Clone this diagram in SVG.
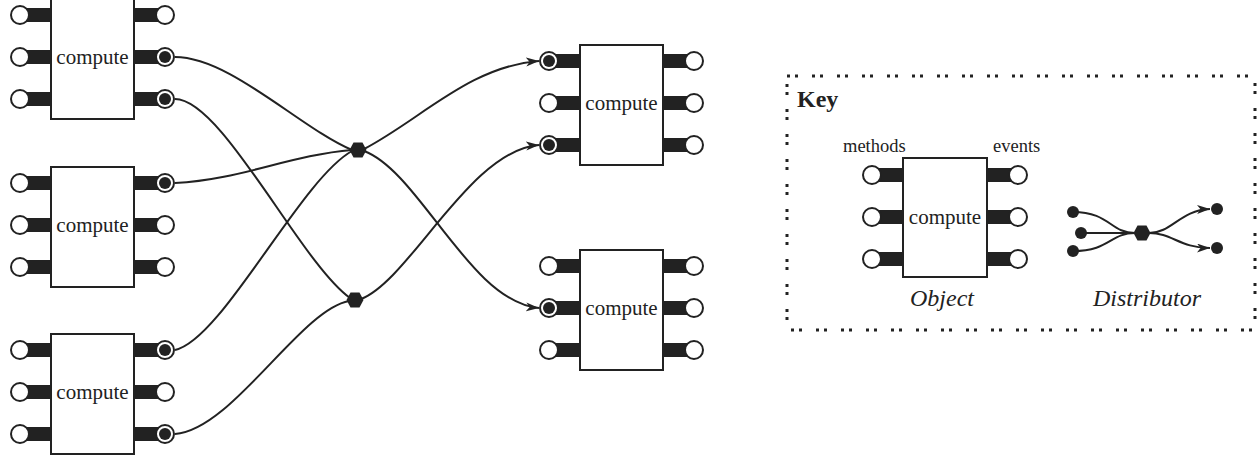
<svg xmlns="http://www.w3.org/2000/svg" xmlns:xlink="http://www.w3.org/1999/xlink" width="1259" height="457" viewBox="0 0 1259 457">
  <style>
    .box { fill: #fff; stroke: #222; stroke-width: 2; }
    .bar { fill: #222; }
    .ring { fill: #fff; stroke: #222; stroke-width: 2; }
    .dot { fill: #222; }
    .lbl { font-family: "Liberation Serif", "Times New Roman", serif; font-size: 21px; fill: #222; text-anchor: middle; }
    .small { font-family: "Liberation Serif", "Times New Roman", serif; font-size: 18.5px; fill: #222; }
    .cap { font-family: "Liberation Serif", "Times New Roman", serif; font-size: 24px; font-style: italic; fill: #222; text-anchor: middle; }
    .key { font-family: "Liberation Serif", "Times New Roman", serif; font-size: 24px; font-weight: bold; fill: #222; }
    .wire { fill: none; stroke: #222; stroke-width: 2; }
    .hub { fill: #222; }
    .frame { fill: none; stroke: #222; stroke-width: 3; stroke-dasharray: 3 5 3 14; }
  </style>
  <defs>
    <marker id="arrow" markerUnits="userSpaceOnUse" markerWidth="14" markerHeight="10" refX="13" refY="4.5" orient="auto">
      <path d="M0,0 L13,4.5 L0,9 L3.5,4.5 z" fill="#222"/>
    </marker>
    <!-- pins: origin at the box edge, on the pin's row -->
    <g id="pinL"><rect class="bar" x="-31" y="-7" width="31" height="14"/><circle class="ring" cx="-31" cy="0" r="9"/></g>
    <g id="pinR"><rect class="bar" x="0" y="-7" width="31" height="14"/><circle class="ring" cx="31" cy="0" r="9"/></g>
    <g id="pinLf"><use xlink:href="#pinL"/><circle class="dot" cx="-31" cy="0" r="6"/></g>
    <g id="pinRf"><use xlink:href="#pinR"/><circle class="dot" cx="31" cy="0" r="6"/></g>
    <polygon id="hex" points="-8.5,0 -4.5,-7.5 4.5,-7.5 8.5,0 4.5,7.5 -4.5,7.5"/>
  </defs>

  <!-- connectors -->
  <g id="connectors">
    <path class="wire" d="M175,57 C230,57 300,128 352,150"/>
    <path class="wire" d="M175,99 C222,99 300,262 350,298"/>
    <path class="wire" d="M175,183 C240,180 290,155 352,150"/>
    <path class="wire" d="M175,350 C222,340 300,180 352,151"/>
    <path class="wire" d="M175,434 C232,430 300,310 349,301"/>
    <path class="wire" d="M364,149 C420,120 470,66 539,61" marker-end="url(#arrow)"/>
    <path class="wire" d="M364,151 C420,172 470,302 539,308" marker-end="url(#arrow)"/>
    <path class="wire" d="M361,299 C410,280 470,150 539,145" marker-end="url(#arrow)"/>
  </g>

  <!-- distributors -->
  <g id="dist1"><use xlink:href="#hex" class="hub" x="358" y="150"/></g>
  <g id="dist2"><use xlink:href="#hex" class="hub" x="355" y="300"/></g>

  <!-- compute objects -->
  <g id="objL1" transform="translate(51,-1)">
    <use xlink:href="#pinL" y="16"/><use xlink:href="#pinL" y="58"/><use xlink:href="#pinL" y="100"/>
    <use xlink:href="#pinR" x="83" y="16"/><use xlink:href="#pinRf" x="83" y="58"/><use xlink:href="#pinRf" x="83" y="100"/>
    <rect class="box" x="0" y="0" width="83" height="120"/>
    <text class="lbl" x="41.5" y="65">compute</text>
  </g>
  <g id="objL2" transform="translate(51,167)">
    <use xlink:href="#pinL" y="16"/><use xlink:href="#pinL" y="58"/><use xlink:href="#pinL" y="100"/>
    <use xlink:href="#pinRf" x="83" y="16"/><use xlink:href="#pinR" x="83" y="58"/><use xlink:href="#pinR" x="83" y="100"/>
    <rect class="box" x="0" y="0" width="83" height="120"/>
    <text class="lbl" x="41.5" y="65">compute</text>
  </g>
  <g id="objL3" transform="translate(51,334)">
    <use xlink:href="#pinL" y="16"/><use xlink:href="#pinL" y="58"/><use xlink:href="#pinL" y="100"/>
    <use xlink:href="#pinRf" x="83" y="16"/><use xlink:href="#pinR" x="83" y="58"/><use xlink:href="#pinRf" x="83" y="100"/>
    <rect class="box" x="0" y="0" width="83" height="120"/>
    <text class="lbl" x="41.5" y="65">compute</text>
  </g>
  <g id="objR1" transform="translate(580,45)">
    <use xlink:href="#pinLf" y="16"/><use xlink:href="#pinL" y="58"/><use xlink:href="#pinLf" y="100"/>
    <use xlink:href="#pinR" x="83" y="16"/><use xlink:href="#pinR" x="83" y="58"/><use xlink:href="#pinR" x="83" y="100"/>
    <rect class="box" x="0" y="0" width="83" height="120"/>
    <text class="lbl" x="41.5" y="65">compute</text>
  </g>
  <g id="objR2" transform="translate(580,250)">
    <use xlink:href="#pinL" y="16"/><use xlink:href="#pinLf" y="58"/><use xlink:href="#pinL" y="100"/>
    <use xlink:href="#pinR" x="83" y="16"/><use xlink:href="#pinR" x="83" y="58"/><use xlink:href="#pinR" x="83" y="100"/>
    <rect class="box" x="0" y="0" width="83" height="120"/>
    <text class="lbl" x="41.5" y="65">compute</text>
  </g>

  <!-- key -->
  <g id="key">
    <rect class="frame" x="787" y="76" width="468" height="254"/>
    <text class="key" x="797" y="107">Key</text>
    <text class="small" x="843" y="152">methods</text>
    <text class="small" x="993" y="152">events</text>
    <g id="keyObject" transform="translate(903,158)">
      <use xlink:href="#pinL" y="17"/><use xlink:href="#pinL" y="59"/><use xlink:href="#pinL" y="101"/>
      <use xlink:href="#pinR" x="84" y="17"/><use xlink:href="#pinR" x="84" y="59"/><use xlink:href="#pinR" x="84" y="101"/>
      <rect class="box" x="0" y="0" width="84" height="119"/>
      <text class="lbl" x="42" y="66">compute</text>
    </g>
    <g id="keyDistributor">
      <path class="wire" d="M1073,212 C1110,212 1110,233 1135,233"/>
      <path class="wire" d="M1081,233 L1135,233"/>
      <path class="wire" d="M1073,251 C1110,251 1110,233 1135,233"/>
      <path class="wire" d="M1149,233 C1172,233 1180,210 1210,209" marker-end="url(#arrow)"/>
      <path class="wire" d="M1149,233 C1172,233 1180,248 1210,248" marker-end="url(#arrow)"/>
      <circle class="dot" cx="1073" cy="212" r="6"/>
      <circle class="dot" cx="1081" cy="233" r="6"/>
      <circle class="dot" cx="1073" cy="251" r="6"/>
      <circle class="dot" cx="1217" cy="209" r="6"/>
      <circle class="dot" cx="1217" cy="248" r="6"/>
      <use xlink:href="#hex" class="hub" x="1142" y="233"/>
    </g>
    <text class="cap" x="942" y="306">Object</text>
    <text class="cap" x="1147" y="306">Distributor</text>
  </g>
</svg>
